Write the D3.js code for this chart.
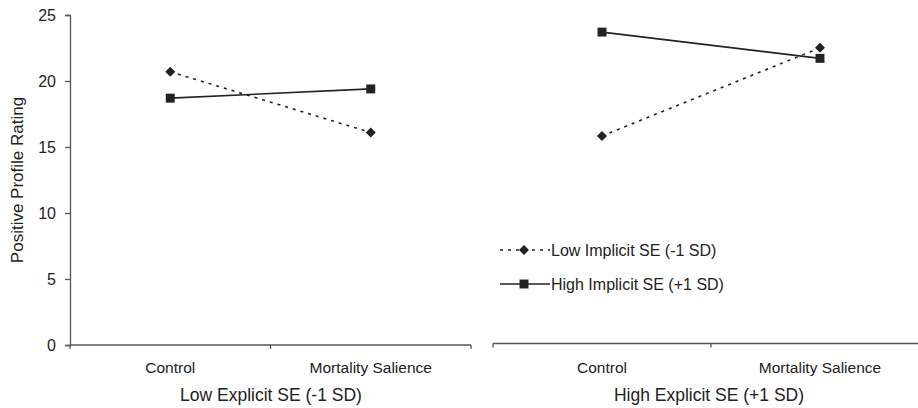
<!DOCTYPE html>
<html>
<head>
<meta charset="utf-8">
<script src="https://cdn.jsdelivr.net/npm/d3@7"></script>
<style>
  body { margin: 0; background: #fff; }
  text { font-family: "Liberation Sans", Arial, sans-serif; fill: #222; }
</style>
</head>
<body>
<div id="chart"></div>
<script>
var conditions = ['Control', 'Mortality Salience'];
var panels = ['Low Explicit SE (-1 SD)', 'High Explicit SE (+1 SD)'];
var seriesNames = ['Low Implicit SE (-1 SD)', 'High Implicit SE (+1 SD)'];
// values per panel: [Control, Mortality Salience]
var lowImplicit = [[20.7, 16.1], [15.8, 22.5]];
var highImplicit = [[18.7, 19.4], [23.7, 21.7]];
var yTicks = [0, 5, 10, 15, 20, 25];

var width = 918;
var height = 408;

var svg = d3.select('#chart')
    .append('svg')
    .attr('width', width)
    .attr('height', height);

var y = d3.scaleLinear().domain([0, 25]).range([345, 15]);
var yRight = d3.scaleLinear().domain([0, 25]).range([343.5, 15]);

var panelRanges = [[70, 471], [493, 929]];
var titleCenters = [271, 709];
var axisColor = '#555';
var lineColor = '#222';
var font = '"Liberation Sans", Arial, sans-serif';

// y axis on left panel
var yAxis = svg.append('g')
    .attr('transform', 'translate(70,0)')
    .call(d3.axisLeft(y).tickValues(yTicks).tickSize(5).tickPadding(9));
yAxis.select('.domain').attr('stroke', axisColor).attr('stroke-width', 1.3);
yAxis.selectAll('.tick line').attr('stroke', axisColor).attr('stroke-width', 1.3);
yAxis.selectAll('.tick text')
    .style('font-size', '16px')
    .style('font-family', font)
    .attr('fill', '#222');

svg.append('text')
    .attr('transform', 'translate(23,' + y(12.5) + ') rotate(-90)')
    .attr('text-anchor', 'middle')
    .style('font-size', '17px')
    .text('Positive Profile Rating');

var diamond = d3.symbol().type(d3.symbolSquare).size(50);
var square = d3.symbol().type(d3.symbolSquare).size(80);

panels.forEach(function (name, p) {
    var yy = p === 0 ? y : yRight;
    var x = d3.scaleBand().domain(conditions).range(panelRanges[p]).padding(0);
    var base = yy(0);
    var g = svg.append('g');

    // baseline
    g.append('line')
        .attr('x1', panelRanges[p][0]).attr('x2', panelRanges[p][1])
        .attr('y1', base).attr('y2', base)
        .attr('stroke', axisColor).attr('stroke-width', 1.3);

    // ticks at band boundaries
    var tickPos = conditions.map(function (c) { return x(c); }).concat([panelRanges[p][1]]);
    g.selectAll('.xtick')
        .data(tickPos)
        .enter()
        .append('line')
        .attr('x1', function (d) { return d; })
        .attr('x2', function (d) { return d; })
        .attr('y1', base)
        .attr('y2', base + 4)
        .attr('stroke', axisColor)
        .attr('stroke-width', 1.3);

    g.selectAll('.xlabel')
        .data(conditions)
        .enter()
        .append('text')
        .attr('x', function (d) { return x(d) + x.bandwidth() / 2; })
        .attr('y', 373)
        .attr('text-anchor', 'middle')
        .style('font-size', '15.5px')
        .text(function (d) { return d; });

    g.append('text')
        .attr('x', titleCenters[p])
        .attr('y', 401)
        .attr('text-anchor', 'middle')
        .style('font-size', '17.5px')
        .text(name);

    var line = d3.line()
        .x(function (d, i) { return x(conditions[i]) + x.bandwidth() / 2; })
        .y(function (d) { return yy(d); });

    g.append('path')
        .attr('d', line(lowImplicit[p]))
        .attr('fill', 'none')
        .attr('stroke', lineColor)
        .attr('stroke-width', 1.6)
        .attr('stroke-dasharray', '3,5');

    g.append('path')
        .attr('d', line(highImplicit[p]))
        .attr('fill', 'none')
        .attr('stroke', lineColor)
        .attr('stroke-width', 1.6);

    g.selectAll('.dia')
        .data(lowImplicit[p])
        .enter()
        .append('path')
        .attr('d', diamond)
        .attr('transform', function (d, i) {
            return 'translate(' + (x(conditions[i]) + x.bandwidth() / 2) + ',' + yy(d) + ') rotate(45)';
        })
        .attr('fill', lineColor);

    g.selectAll('.sq')
        .data(highImplicit[p])
        .enter()
        .append('path')
        .attr('d', square)
        .attr('transform', function (d, i) {
            return 'translate(' + (x(conditions[i]) + x.bandwidth() / 2) + ',' + yy(d) + ')';
        })
        .attr('fill', lineColor);
});

// legend
var legend = svg.append('g').attr('transform', 'translate(500,250)');
seriesNames.forEach(function (name, i) {
    var row = legend.append('g').attr('transform', 'translate(0,' + (i * 34) + ')');
    row.append('line')
        .attr('x1', 0).attr('x2', 50)
        .attr('y1', 0).attr('y2', 0)
        .attr('stroke', lineColor)
        .attr('stroke-width', 1.6)
        .attr('stroke-dasharray', i === 0 ? '3,5' : null);
    row.append('path')
        .attr('d', i === 0 ? diamond : square)
        .attr('transform', 'translate(24,0)' + (i === 0 ? ' rotate(45)' : ''))
        .attr('fill', lineColor);
    row.append('text')
        .attr('x', 51)
        .attr('y', 6)
        .style('font-size', '16px')
        .text(name);
});
</script>
</body>
</html>
